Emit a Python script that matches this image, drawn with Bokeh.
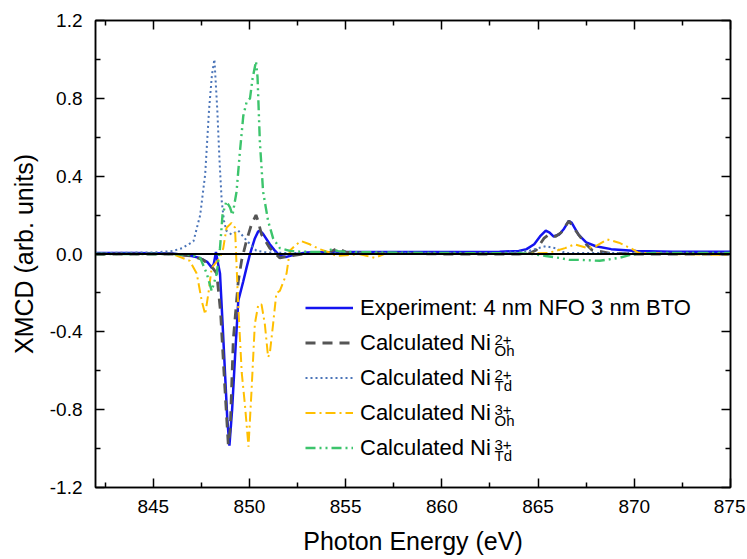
from bokeh.plotting import figure
from bokeh.models import (LinearAxis, FixedTicker, Legend, LegendItem, Label, Span,
                          NumeralTickFormatter, CustomJSTickFormatter, Range1d)
from bokeh.embed import file_html
from bokeh.resources import INLINE

# ---------------- data ----------------
exp_x = [842, 844, 846, 847, 847.4, 847.8, 848.04, 848.15, 848.26, 848.35, 848.47, 848.6, 848.73,
         848.85, 848.96, 849.1, 849.25, 849.42, 849.68, 849.85, 850.03, 850.28, 850.45, 850.54,
         850.7, 851.06, 851.3, 851.58, 851.93, 852.45, 853, 855, 858, 861, 863, 864, 864.4, 864.8,
         865.1, 865.4, 865.6, 865.8, 866.1, 866.35, 866.6, 866.75, 867.1, 867.5, 868.0, 868.8,
         870.1, 872, 875]
exp_y = [0.005, 0.005, 0.003, -0.01, -0.02, -0.04, -0.07, -0.05, 0.01, -0.04, -0.1, -0.35, -0.61,
         -0.85, -0.985, -0.8, -0.53, -0.24, -0.14, -0.07, 0.0, 0.08, 0.115, 0.12, 0.105, 0.05,
         0.02, -0.01, -0.015, 0.0, 0.008, 0.01, 0.01, 0.01, 0.012, 0.015, 0.025, 0.05, 0.09, 0.12,
         0.11, 0.09, 0.10, 0.13, 0.17, 0.16, 0.10, 0.06, 0.04, 0.025, 0.015, 0.012, 0.012]

ni2oh_x = [842, 846, 847, 847.6, 848.12, 848.3, 848.5, 848.7, 848.9, 849.0, 849.16, 849.42, 849.6,
           849.85, 850.1, 850.34, 850.45, 850.63, 851.06, 851.58, 852.1, 852.8, 853.5, 854.2,
           854.6, 855.0, 856, 860, 864, 864.6, 864.9, 865.3, 865.57, 865.9, 866.2, 866.6, 867.1,
           867.5, 867.8, 868.7, 870, 875]
ni2oh_y = [0, 0, -0.01, -0.03, -0.075, -0.1, -0.3, -0.65, -0.98, -0.9, -0.44, -0.14, -0.03, 0.07,
           0.15, 0.2, 0.17, 0.10, 0.03, -0.02, -0.01, 0.0, 0.005, 0.01, 0.03, 0.01, 0.005, 0.0,
           0.0, 0.005, 0.02, 0.08, 0.10, 0.09, 0.11, 0.17, 0.10, 0.05, 0.02, 0.005, 0.0, 0.0]

ni2td_x = [842, 845, 846, 846.5, 847.09, 847.44, 847.7, 847.9, 848.05, 848.18, 848.33, 848.44,
           848.56, 848.68, 848.8, 849.07, 849.42, 849.85, 850.36, 850.9, 852, 856, 863, 864.5,
           865.0, 865.4, 865.9, 866.4, 867, 870, 875]
ni2td_y = [0.005, 0.008, 0.015, 0.03, 0.065, 0.2, 0.41, 0.74, 0.92, 1.0, 0.74, 0.49, 0.27, 0.17,
           0.12, 0.10, 0.12, 0.07, 0.017, 0.008, 0.005, 0.005, 0.005, 0.015, 0.03, 0.04, 0.03,
           0.005, 0.005, 0.005, 0.005]

ni3oh_x = [842, 846, 846.9, 847.26, 847.52, 847.7, 847.87, 848.04, 848.47, 848.64, 848.81, 849.07,
           849.25, 849.42, 849.6, 849.77, 849.95, 850.11, 850.28, 850.46, 850.63, 850.8, 850.97,
           851.06, 851.23, 851.4, 851.58, 851.93, 852.1, 852.45, 852.7, 853.13, 853.65, 854.17,
           854.5, 855.2, 855.7, 856.5, 857.0, 860, 864, 865.5, 865.9, 866.4, 866.9, 867.6, 868.0,
           868.6, 869.2, 869.9, 870.2, 872, 875]
ni3oh_y = [0, 0, -0.035, -0.1, -0.24, -0.31, -0.2, -0.07, -0.02, 0.03, 0.135, 0.16, 0.135, -0.27,
           -0.61, -0.78, -0.99, -0.70, -0.36, -0.26, -0.26, -0.36, -0.53, -0.51, -0.36, -0.2,
           -0.19, -0.1, 0.017, 0.05, 0.066, 0.05, 0.025, 0.008, -0.01, -0.005, 0.0, -0.02, 0.0,
           0.0, 0.0, 0.005, 0.015, 0.03, 0.05, 0.03, 0.04, 0.075, 0.058, 0.025, 0.007, 0.0, -0.005]

ni3td_x = [842, 846, 847, 847.44, 847.78, 848.04, 848.3, 848.47, 848.6, 848.8, 848.99, 849.12,
           849.33, 849.5, 849.68, 849.85, 850.03, 850.16, 850.34, 850.42, 850.54, 850.71, 850.97,
           851.23, 851.58, 852.1, 852.6, 853.5, 854.0, 854.3, 854.6, 855.2, 857, 860, 864, 864.7,
           865.4, 866.1, 866.6, 867.1, 868.2, 869.2, 869.9, 871, 875]
ni3td_y = [0, 0, -0.005, -0.02, -0.1, -0.19, -0.1, 0.03, 0.2, 0.27, 0.24, 0.2, 0.32, 0.52, 0.71,
           0.78, 0.8, 0.9, 0.99, 0.91, 0.58, 0.32, 0.17, 0.08, 0.03, 0.016, 0.012, 0.01, 0.012,
           0.025, 0.015, 0.01, 0.008, 0.005, 0.004, 0.0, -0.01, -0.02, -0.03, -0.03, -0.035, -0.02,
           -0.002, 0.005, 0.005]

x_ticks = [845, 850, 855, 860, 865, 870, 875]
x_minor = [842.5, 847.5, 852.5, 857.5, 862.5, 867.5, 872.5]
y_ticks = [-1.2, -0.8, -0.4, 0.0, 0.4, 0.8, 1.2]
y_minor = [-1.0, -0.6, -0.2, 0.2, 0.6, 1.0]

legend_main = ["Experiment: 4 nm NFO 3 nm BTO", "Calculated Ni", "Calculated Ni",
               "Calculated Ni", "Calculated Ni"]
legend_sup = ["2+", "2+", "3+", "3+"]
legend_sub = ["Oh", "Td", "Oh", "Td"]

FONT = "Liberation Sans"

p = figure(width=745, height=557, x_range=Range1d(842, 875), y_range=Range1d(-1.2, 1.2),
           output_backend="svg", toolbar_location=None,
           min_border_left=95, min_border_right=15, min_border_top=20, min_border_bottom=69)
p.xgrid.visible = False
p.ygrid.visible = False
p.outline_line_color = "black"
p.outline_line_width = 1.5

r_exp = p.line(exp_x, exp_y, line_color="#1414f0", line_width=2.5)
r_2oh = p.line(ni2oh_x, ni2oh_y, line_color="#555555", line_width=2.8, line_dash="10 7")
r_2td = p.line(ni2td_x, ni2td_y, line_color="#4a74b8", line_width=2, line_dash="2 3")
r_3oh = p.line(ni3oh_x, ni3oh_y, line_color="#ffbf00", line_width=2, line_dash="10 4 2 4")
r_3td = p.line(ni3td_x, ni3td_y, line_color="#3cc46c", line_width=2.4, line_dash="10 4 2 4 2 4")

p.add_layout(Span(location=0, dimension="width", line_color="black", line_width=2))

xax = p.xaxis[0]
yax = p.yaxis[0]
xax.ticker = FixedTicker(ticks=x_ticks, minor_ticks=x_minor)
yax.ticker = FixedTicker(ticks=y_ticks, minor_ticks=y_minor)
yax.formatter = NumeralTickFormatter(format="0.0")
xax.axis_label = "Photon Energy (eV)"
yax.axis_label = "XMCD (arb. units)"
for ax in (xax, yax):
    ax.major_tick_in = 9
    ax.major_tick_out = 0
    ax.minor_tick_in = 5
    ax.minor_tick_out = 0
    ax.axis_line_width = 1.5
    ax.major_tick_line_width = 1.5
    ax.minor_tick_line_width = 1.5
    ax.major_label_text_font = FONT
    ax.major_label_text_font_size = "19px"
    ax.major_label_text_color = "black"
    ax.axis_label_text_font = FONT
    ax.axis_label_text_font_size = "25px"
    ax.axis_label_text_font_style = "normal"
    ax.axis_label_text_color = "black"
xax.major_label_standoff = 12
xax.axis_label_standoff = 11
yax.major_label_standoff = 13
yax.axis_label_standoff = 9

for place, ticks, minor in (("above", x_ticks, x_minor), ("right", y_ticks, y_minor)):
    ax = LinearAxis(ticker=FixedTicker(ticks=ticks, minor_ticks=minor),
                    formatter=CustomJSTickFormatter(code="return ''"),
                    major_tick_in=9, major_tick_out=0, minor_tick_in=5, minor_tick_out=0,
                    major_label_standoff=0, axis_line_width=1.5, major_tick_line_width=1.5,
                    minor_tick_line_width=1.5, major_label_text_font_size="1px")
    p.add_layout(ax, place)

renderers = [r_exp, r_2oh, r_2td, r_3oh, r_3td]
items = [LegendItem(label=lab, renderers=[r]) for lab, r in zip(legend_main, renderers)]
legend = Legend(items=items, location=(210, 22), glyph_width=48, glyph_height=35,
                label_height=35, spacing=0, padding=0, margin=0, label_standoff=7,
                border_line_color=None, background_fill_alpha=0,
                label_text_font=FONT, label_text_font_size="22px", label_text_color="black")
p.add_layout(legend)

# superscripts / subscripts of the legend labels
for k, (sup, sub) in enumerate(zip(legend_sup, legend_sub)):
    center_from_bottom = 22 + 175 - 17.5 - 35 * (k + 1)
    p.add_layout(Label(x=399, y=center_from_bottom + 3, x_units="screen", y_units="screen",
                       text=sup, text_font=FONT, text_font_size="15px",
                       text_baseline="alphabetic", text_color="black"))
    p.add_layout(Label(x=399, y=center_from_bottom - 7.5, x_units="screen", y_units="screen",
                       text=sub, text_font=FONT, text_font_size="15px",
                       text_baseline="alphabetic", text_color="black"))

open("out.html", "w").write(file_html(p, INLINE))
